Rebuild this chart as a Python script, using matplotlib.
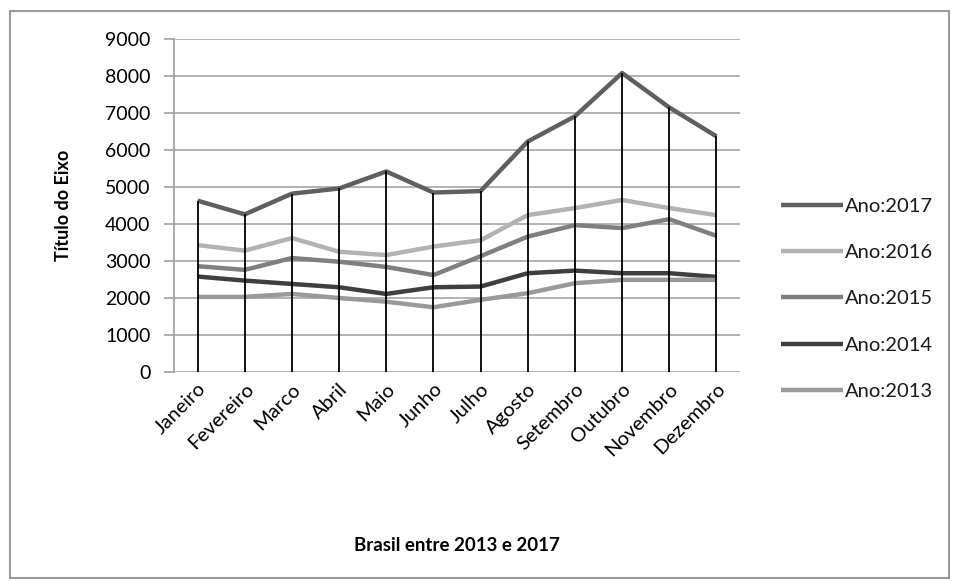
import numpy as np
import matplotlib.pyplot as plt
from matplotlib.patches import Rectangle

meses = ["Janeiro", "Fevereiro", "Marco", "Abril", "Maio", "Junho", "Julho",
         "Agosto", "Setembro", "Outubro", "Novembro", "Dezembro"]

ano_2017 = [4630, 4260, 4820, 4960, 5420, 4850, 4890, 6230, 6910, 8080, 7150, 6370]
ano_2016 = [3430, 3280, 3620, 3250, 3160, 3390, 3560, 4240, 4430, 4650, 4430, 4240]
ano_2015 = [2860, 2760, 3080, 2980, 2840, 2620, 3130, 3660, 3970, 3890, 4130, 3680]
ano_2014 = [2580, 2470, 2380, 2290, 2110, 2290, 2310, 2670, 2740, 2670, 2670, 2570]
ano_2013 = [2030, 2030, 2110, 2000, 1900, 1750, 1950, 2130, 2400, 2490, 2490, 2490]

series = [
    ("Ano:2017", ano_2017, "#5f5f5f"),
    ("Ano:2016", ano_2016, "#b2b2b2"),
    ("Ano:2015", ano_2015, "#7f7f7f"),
    ("Ano:2014", ano_2014, "#3f3f3f"),
    ("Ano:2013", ano_2013, "#999999"),
]

plt.rcParams["font.family"] = ["Lato", "DejaVu Sans"]
plt.rcParams["text.color"] = "#1a1a1a"

fig = plt.figure(figsize=(9.58, 5.81), dpi=100)
fig.patches.append(Rectangle((10 / 958, 3 / 581), 939 / 958, 567 / 581, transform=fig.transFigure,
                             fill=False, edgecolor="#9a9a9a", linewidth=1.5))
ax = fig.add_axes([174 / 958, 1 - 372 / 581, 566 / 958, 333 / 581])

x = np.arange(len(meses))
for name, vals, color in series:
    ax.plot(x, vals, color=color, linewidth=3.2, label=name, solid_capstyle="butt", zorder=3)

# linhas de queda ate o maior valor
topo = np.max([s[1] for s in series], axis=0)
ax.vlines(x, 0, topo, color="black", linewidth=1.3, zorder=4)

ax.set_xlim(-0.5, len(meses) - 0.5)
ax.set_ylim(0, 9000)
ax.set_yticks(range(0, 9001, 1000))
ax.yaxis.grid(True, color="#a6a6a6", linewidth=1.2)
ax.set_axisbelow(True)
for s in ["top", "right", "bottom"]:
    ax.spines[s].set_visible(False)
ax.spines["left"].set_color("#a0a0a0")
ax.spines["left"].set_linewidth(1.2)
ax.tick_params(axis="y", length=7, color="#a0a0a0", width=1.2, labelsize=14, pad=10)
ax.tick_params(axis="x", length=0, pad=6)
ax.set_xticks(x)
ax.set_xticklabels(meses, rotation=45, ha="right", rotation_mode="anchor", fontsize=14.5)

ax.set_ylabel("Título do Eixo", fontsize=13, fontweight="bold", labelpad=24)
ax.set_xlabel("Brasil entre 2013 e 2017", fontsize=13.5, fontweight="bold", labelpad=56)

ax.legend(loc="center left", bbox_to_anchor=(1.04, 0.22), frameon=False, fontsize=14.5,
          handlelength=3.1, handletextpad=0.1, labelspacing=1.45)

fig.savefig("out.png", dpi=100)
